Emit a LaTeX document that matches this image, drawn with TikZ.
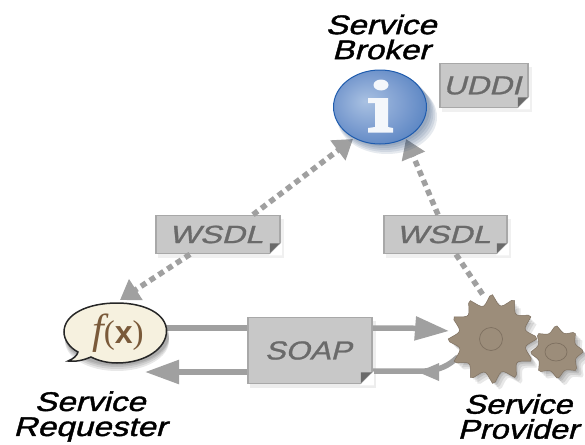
\documentclass[tikz,border=0pt]{standalone}
\usepackage{fontspec}
\setmainfont{Liberation Sans}
\newfontfamily\serfont{Liberation Serif}
\newfontfamily\actorfont[FakeBold=1.3,FakeSlant=0.22]{Liberation Sans}
\newfontfamily\boxfont[FakeBold=0.9,FakeSlant=0.22]{Liberation Sans}
\usetikzlibrary{arrows.meta,shapes.geometric,calc}
\definecolor{cline}{HTML}{A0A0A0}
\definecolor{cbox}{HTML}{C8C8C8}
\definecolor{cboxedge}{HTML}{A8A8A8}
\definecolor{ctxt}{HTML}{6A6A6A}
\definecolor{cgear}{HTML}{9C8D7A}
\definecolor{cgeardark}{HTML}{7E7060}
\definecolor{cbubble}{HTML}{F6F1DF}
\definecolor{cfx}{HTML}{7A5A3A}
\definecolor{cblue}{HTML}{1F5CAE}
\definecolor{cballa}{HTML}{A9C1E2}
\definecolor{cballb}{HTML}{7C9DD0}
\definecolor{cballc}{HTML}{4F7DBE}
\pgfdeclareradialshading{infoball}{\pgfpoint{-8bp}{4bp}}{
  color(0bp)=(cballa);
  color(18bp)=(cballb);
  color(34bp)=(cballc);
  color(44bp)=(cblue);
  color(50bp)=(cblue)}
\newcommand{\wide}[2]{\scalebox{#1}[1]{#2}}
\tikzset{
  actor/.style={font=\fontsize{27}{26}\selectfont\actorfont,align=center,text=black,inner sep=0pt},
  msgbox/.style={draw=cboxedge,line width=1.6pt,fill=cbox,inner sep=0pt,font=\fontsize{25}{25}\selectfont\boxfont,text=ctxt},
  dotline/.style={cline,line width=5.5pt,dash pattern=on 6pt off 4.5pt},
  dottip/.style={-{Triangle[length=19pt,width=24pt,fill=cline]}},
  solidline/.style={cline,line width=5.5pt},
  solidtip/.style={-{Triangle[length=34pt,width=23pt,fill=cline]}},
  geardraw/.style={fill=cgear,draw=cgeardark,line width=0.5pt},
  gearring/.style={draw=cgeardark,line width=0.7pt},
  hotspot/.style={inner sep=0pt,draw=none,fill=none},
}
\newcommand{\foldcorner}[2]{%
  \fill[white] ($(#1.south east)+(1,1)$) -- ($(#1.south east)+(-#2-1,1)$) -- ($(#1.south east)+(1,-#2-1)$) -- cycle;
  \fill[ctxt] ($(#1.south east)+(-#2,-#2)$) -- ($(#1.south east)+(-1,-#2)$) -- ($(#1.south east)+(-#2,-1)$) -- cycle;}
\newcommand{\gearpath}[4]{plot[domain=0:360,samples=#4*8+1] ({#1+#3*(1-0.26*abs(sin(#4*\x/2+8)))*cos(\x)},{#2+#3*(1-0.26*abs(sin(#4*\x/2+8)))*sin(\x)}) -- cycle}
\begin{document}
\begin{tikzpicture}[x=1pt,y=-1pt]
\useasboundingbox (0,0) rectangle (585,444);
\fill[white] (0,0) rectangle (585,444);

% free ends of the connectors
\coordinate (ballL) at (353,139);
\coordinate (ballR) at (406,139);
\coordinate (bubR) at (166,328);
\coordinate (bubL) at (120,300);
\coordinate (bubB) at (145,372);
\coordinate (gearT) at (485,298);
\coordinate (gearIn) at (449,331);
\coordinate (gearOut) at (458,357);

% faint box shadows
\fill[black,opacity=0.06] (158,219) rectangle (284,258);
\fill[black,opacity=0.06] (386,219) rectangle (511,258);
\fill[black,opacity=0.07] (250,321) rectangle (376,388);
\fill[black,opacity=0.06] (442,67) rectangle (532,112);

% nodes
\node[msgbox,minimum width=124pt,minimum height=38pt] (wsdlL) at (218,234.5) {\hspace{-4pt}\wide{1.3}{WSDL}};
\node[msgbox,minimum width=123pt,minimum height=38pt] (wsdlR) at (445.5,234.5) {\hspace{-4pt}\wide{1.3}{WSDL}};
\node[msgbox,minimum width=124pt,minimum height=66pt,font=\fontsize{26}{26}\selectfont\boxfont] (soap) at (310,350.5) {\hspace{-4pt}\wide{1.2}{SOAP}};
\node[msgbox,minimum width=88pt,minimum height=44pt,font=\fontsize{26}{26}\selectfont\boxfont] (uddi) at (484,85.5) {\hspace{-4pt}\wide{1.22}{UDDI}};

% connectors
\draw[dotline,dottip] (wsdlL.north -| 253,0) -- (ballL);
\draw[dotline,dottip] (wsdlL.south -| 190,0) -- (bubL);
\draw[dotline,dottip] (wsdlR.north -| 438,0) -- (ballR);
\draw[dotline] (wsdlR.south -| 456,0) -- (gearT);
\draw[solidline] (bubR) -- (soap.west |- bubR);
\draw[solidline,solidtip] (soap.west |- bubB) -- (bubB);
\draw[solidline,solidtip] (soap.east |- 0,328) -- (410,328) -- (gearIn);
\draw[solidline] (gearOut) .. controls (448,366) and (440,370) .. (425,371) -- (soap.east |- 0,371);
\fill[cline] (439,363) -- (439,381) -- (418,372) -- cycle;

% folded corners
\foldcorner{wsdlL}{11}
\foldcorner{wsdlR}{11}
\foldcorner{soap}{12}
\foldcorner{uddi}{11}

% Service Broker
\foreach \g in {10,8,6,4,2}{\fill[black!40!cblue,opacity=0.10] (\g*0.5+382,\g+107) ellipse (46+\g*0.4 and 37);}
\shade[shading=infoball,draw=cblue,line width=1pt] (380,107) ellipse (46.5 and 37);
\node[hotspot,ellipse,minimum width=93pt,minimum height=74pt] (ball) at (380,107) {};
\fill[white!95!cblue] (381,85) ellipse (7.5 and 5.5);
\fill[white!95!cblue] (368,98) -- (388,98) -- (388,127) -- (393,128) -- (393,132.5) -- (368,132.5) -- (368,128) -- (375,127) -- (375,103) -- (368,103) -- cycle;
\node[actor] (brokerlbl) at (381,37) {\wide{1.23}{Service}\\[-1pt]\wide{1.23}{Broker}};

% Service Requester
\foreach \g in {7,5,3,1.5}{\fill[black,opacity=0.09] (117,\g+334) ellipse (52 and 30);}
\draw[fill=cbubble,draw=black!85,line width=1.5pt] (166.5,331) .. controls (166.5,314) and (145,303) .. (117,303)
   .. controls (88,303) and (64,314) .. (64,332) .. controls (64,340) and (70,348) .. (78,352)
   .. controls (77,356) and (73,359) .. (68,361) .. controls (76,362) and (84,360) .. (91,357)
   .. controls (99,361) and (108,363) .. (117,363) .. controls (146,363) and (166.5,348) .. (166.5,331) -- cycle;
\node[inner sep=0pt,text=cfx] (fx) at (118,333) {{\serfont\fontsize{42}{42}\selectfont\itshape f}{\serfont\fontsize{33}{33}\selectfont(}{\fontsize{32}{32}\selectfont\bfseries x}{\serfont\fontsize{33}{33}\selectfont)}};
\node[actor] (reqlbl) at (90,416.5) {\wide{1.23}{Service}\\[-1pt]\wide{1.23}{Requester}};

% Service Provider
\foreach \g in {7,5,3,1.5}{\fill[black,opacity=0.09] \gearpath{\g+492}{\g+339}{45}{12};
  \fill[black,opacity=0.09] \gearpath{\g+557}{\g+352}{27}{8};}
\draw[geardraw] \gearpath{557}{352}{27}{8};
\draw[gearring] (556,352) ellipse (11 and 9);
\draw[geardraw] \gearpath{492.5}{339}{46}{12};
\draw[gearring] (491,339) circle (11.5);
\node[hotspot,circle,minimum size=90pt] (gear) at (492,339) {};
\node[hotspot,circle,minimum size=50pt] (smallgear) at (557,352) {};
\node[actor] (provlbl) at (518,416.5) {\wide{1.2}{Service}\\[-1pt]\wide{1.2}{Provider}};
\end{tikzpicture}
\end{document}
